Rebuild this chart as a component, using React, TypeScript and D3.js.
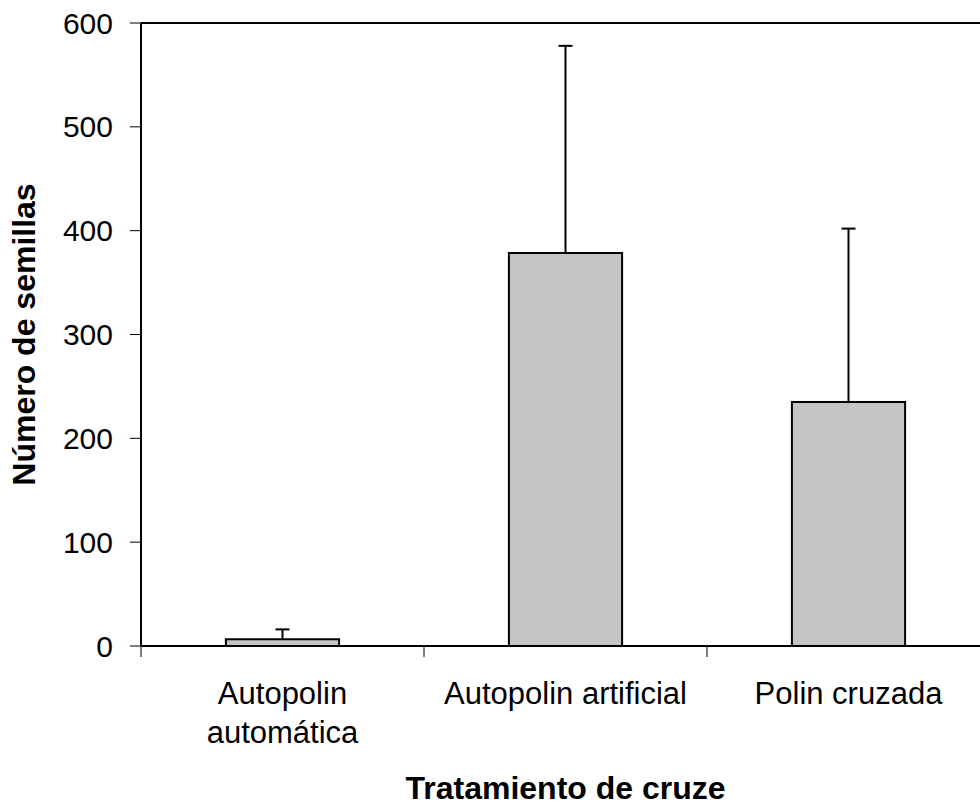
import React from 'react';
import * as d3 from 'd3';

// data
const categories = ['Autopolin automática', 'Autopolin artificial', 'Polin cruzada'];
const categoryLines = [['Autopolin', 'automática'], ['Autopolin artificial'], ['Polin cruzada']];
const means = [6.5, 378.5, 235];
const errorTops = [16, 578, 402];
const yTicks = [0, 100, 200, 300, 400, 500, 600];

const App = () => {
  // chart setup
  const width = 980;
  const height = 807;
  const margin = { top: 23, right: -10, bottom: 161, left: 141 };
  const w = width - margin.left - margin.right;
  const h = height - margin.top - margin.bottom;
  const font = '"Liberation Sans", Arial, sans-serif';

  // scales
  const x = d3.scaleBand<string>()
    .domain(categories)
    .range([0, w])
    .paddingInner(0.6)
    .paddingOuter(0.3);

  const y = d3.scaleLinear()
    .domain([0, 600])
    .range([h, 0]);

  const step = x.step();
  const capHalf = 7;

  const bars = categories.map((c, i) => {
    const cx = (x(c) as number) + x.bandwidth() / 2;
    return (
      <g key={c}>
        <line x1={cx} x2={cx} y1={y(means[i])} y2={y(errorTops[i])} stroke="#000" strokeWidth={2} />
        <line x1={cx - capHalf} x2={cx + capHalf} y1={y(errorTops[i])} y2={y(errorTops[i])} stroke="#000" strokeWidth={2} />
        <rect x={x(c)} y={y(means[i])} width={x.bandwidth()} height={h - y(means[i])}
              fill="#c4c4c4" stroke="#000" strokeWidth={2} />
      </g>
    );
  });

  const xTicks = d3.range(categories.length + 1).map(i => (
    <line key={'xt' + i} x1={i * step} x2={i * step} y1={h} y2={h + 11} stroke="#000" strokeWidth={1} />
  ));

  const yTickEls = yTicks.map(t => (
    <g key={'yt' + t}>
      <line x1={-11} x2={0} y1={y(t)} y2={y(t)} stroke="#000" strokeWidth={1} />
      <text x={-28} y={y(t)} dy="0.35em" textAnchor="end" fontSize={30} fontFamily={font}>{t}</text>
    </g>
  ));

  const catLabels = categories.map((c, i) => {
    const cx = (x(c) as number) + x.bandwidth() / 2;
    return (
      <text key={'cl' + c} textAnchor="middle" fontSize={31} fontFamily={font}>
        {categoryLines[i].map((ln, j) => (
          <tspan key={j} x={cx} y={h + 58 + j * 39}>{ln}</tspan>
        ))}
      </text>
    );
  });

  return (
    <svg width={width} height={height} style={{ position: 'absolute', left: 0, top: 0 }}>
      <rect width={width} height={height} fill="#fff" />
      <g transform={`translate(${margin.left},${margin.top})`}>
        {bars}
        {/* frame */}
        <line x1={0} x2={w} y1={0} y2={0} stroke="#000" strokeWidth={2} />
        <line x1={w} x2={w} y1={0} y2={h} stroke="#000" strokeWidth={2} />
        <line x1={0} x2={0} y1={0} y2={h} stroke="#000" strokeWidth={2} />
        <line x1={0} x2={w} y1={h} y2={h} stroke="#000" strokeWidth={2} />
        {xTicks}
        {yTickEls}
        {catLabels}
        <text x={w / 2} y={h + 153} textAnchor="middle" fontSize={32} fontWeight="bold" fontFamily={font}>
          Tratamiento de cruze
        </text>
        <text transform={`translate(${-106},${h / 2}) rotate(-90)`} textAnchor="middle"
              fontSize={32} fontWeight="bold" fontFamily={font}>
          Número de semillas
        </text>
      </g>
    </svg>
  );
};

export default App;
